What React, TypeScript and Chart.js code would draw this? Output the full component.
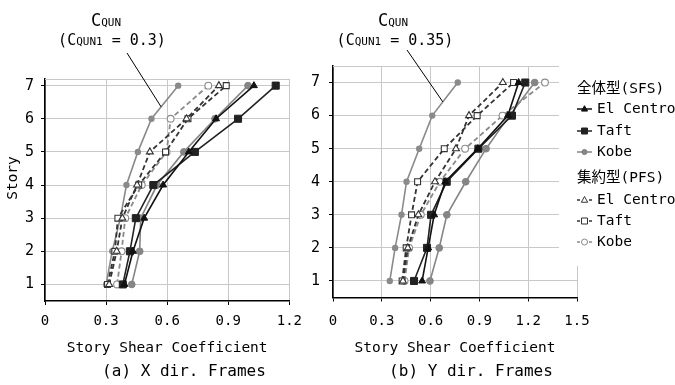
import React, { useEffect, useRef } from 'react';
import { Chart, registerables } from 'chart.js';

Chart.register(...registerables);

const FONT = "'DejaVu Sans Mono', 'Noto Sans CJK JP', monospace";
const GRID = '#c8c8c8';

// ---------- data ----------
const stories = [1, 2, 3, 4, 5, 6, 7];
const recordNames = ['El Centro', 'Taft', 'Kobe'];
const groupHeaders = ['全体型(SFS)', '集約型(PFS)'];
const xAxisTitle = 'Story Shear Coefficient';
const yAxisTitle = 'Story';
const captions = ['(a) X dir. Frames', '(b) Y dir. Frames'];
const cqunLabels = ['0.3', '0.35'];

// (a) X direction
const xCqun = [0.300, 0.330, 0.370, 0.400, 0.456, 0.523, 0.654];
const xSfsElCentro = [0.390, 0.432, 0.487, 0.580, 0.706, 0.840, 1.026];
const xSfsTaft = [0.382, 0.417, 0.446, 0.532, 0.736, 0.948, 1.133];
const xSfsKobe = [0.426, 0.465, 0.470, 0.550, 0.682, 0.835, 0.997];
const xPfsElCentro = [0.315, 0.352, 0.380, 0.452, 0.515, 0.695, 0.854];
const xPfsTaft = [0.307, 0.343, 0.358, 0.460, 0.592, 0.702, 0.890];
const xPfsKobe = [0.354, 0.376, 0.394, 0.475, 0.597, 0.617, 0.802];

// (b) Y direction
const yCqun = [0.349, 0.382, 0.421, 0.452, 0.530, 0.610, 0.767];
const ySfsElCentro = [0.548, 0.585, 0.622, 0.690, 0.890, 1.075, 1.141];
const ySfsTaft = [0.498, 0.578, 0.603, 0.699, 0.894, 1.100, 1.182];
const ySfsKobe = [0.596, 0.653, 0.700, 0.816, 0.941, 1.085, 1.240];
const yPfsElCentro = [0.430, 0.460, 0.525, 0.627, 0.756, 0.836, 1.044];
const yPfsTaft = [0.425, 0.450, 0.483, 0.520, 0.684, 0.886, 1.110];
const yPfsKobe = [0.440, 0.468, 0.540, 0.657, 0.812, 1.042, 1.303];

// ---------- styles ----------
const SFS_COLORS = ['#111111', '#222222', '#858585'];
const PFS_COLORS = ['#333333', '#333333', '#8a8a8a'];
const POINT_STYLES = ['triangle', 'rect', 'circle'];
const SFS_RADIUS = [4, 5, 3.4];
const PFS_RADIUS = [4, 4.2, 3.4];
const CQUN_COLOR = '#8a8a8a';

const pts = (arr: number[]) => arr.map((v, i) => ({ x: v, y: stories[i] }));

function buildDatasets(cqun: number[], sfs: number[][], pfs: number[][]) {
  const ds: any[] = [];
  sfs.forEach((arr, i) => {
    ds.push({
      label: '全体型 ' + recordNames[i],
      data: pts(arr),
      showLine: true,
      borderColor: SFS_COLORS[i],
      backgroundColor: SFS_COLORS[i],
      borderWidth: 1.6,
      pointStyle: POINT_STYLES[i],
      pointRadius: SFS_RADIUS[i],
      pointBackgroundColor: SFS_COLORS[i],
      pointBorderColor: SFS_COLORS[i],
      pointBorderWidth: 1,
    });
  });
  pfs.forEach((arr, i) => {
    ds.push({
      label: '集約型 ' + recordNames[i],
      data: pts(arr),
      showLine: true,
      borderColor: PFS_COLORS[i],
      backgroundColor: '#ffffff',
      borderWidth: 1.8,
      borderDash: [5, 3],
      pointStyle: POINT_STYLES[i],
      pointRadius: PFS_RADIUS[i],
      pointBackgroundColor: '#ffffff',
      pointBorderColor: PFS_COLORS[i],
      pointBorderWidth: 1.1,
    });
  });
  ds.push({
    label: 'CQUN',
    data: pts(cqun),
    showLine: true,
    borderColor: CQUN_COLOR,
    backgroundColor: CQUN_COLOR,
    borderWidth: 1.6,
    pointStyle: 'circle',
    pointRadius: 2.4,
    pointBackgroundColor: CQUN_COLOR,
    pointBorderColor: CQUN_COLOR,
  });
  return ds;
}

function drawMarker(ctx: CanvasRenderingContext2D, kind: string, x: number, y: number, r: number, fill: string, stroke: string) {
  ctx.beginPath();
  if (kind === 'circle') ctx.arc(x, y, r, 0, Math.PI * 2);
  else if (kind === 'rect') ctx.rect(x - r, y - r, 2 * r, 2 * r);
  else {
    ctx.moveTo(x, y - r * 1.1);
    ctx.lineTo(x + r, y + r * 0.7);
    ctx.lineTo(x - r, y + r * 0.7);
    ctx.closePath();
  }
  ctx.fillStyle = fill;
  ctx.fill();
  ctx.lineWidth = 1;
  ctx.strokeStyle = stroke;
  ctx.stroke();
}

function drawMixed(ctx: CanvasRenderingContext2D, parts: { t: string; s: number }[], cx: number, baseline: number) {
  let total = 0;
  parts.forEach((p) => {
    ctx.font = `${p.s}px ${FONT}`;
    total += ctx.measureText(p.t).width;
  });
  let x = cx - total / 2;
  ctx.textAlign = 'left';
  ctx.textBaseline = 'alphabetic';
  parts.forEach((p) => {
    ctx.font = `${p.s}px ${FONT}`;
    ctx.fillText(p.t, x, baseline);
    x += ctx.measureText(p.t).width;
  });
}

function makeDecor(p: any) {
  return {
    id: 'decor',
    beforeDatasetsDraw(chart: any) {
      const { ctx, chartArea: a } = chart;
      ctx.save();
      ctx.strokeStyle = GRID;
      ctx.lineWidth = 1;
      ctx.beginPath();
      ctx.moveTo(a.left, Math.round(a.top) + 0.5);
      ctx.lineTo(a.right, Math.round(a.top) + 0.5);
      ctx.stroke();
      ctx.restore();
    },
    afterDraw(chart: any) {
      const { ctx } = chart;
      const xs = chart.scales.x;
      const ys = chart.scales.y;
      ctx.save();
      ctx.fillStyle = '#000';
      // CQUN annotation
      const big = 15;
      const small = 11;
      drawMixed(ctx, [{ t: 'C', s: big + 2 }, { t: 'QUN', s: small }], p.annCx1, 26);
      drawMixed(ctx, [{ t: '(C', s: big }, { t: 'QUN1', s: small }, { t: ' = ' + p.cqunText + ')', s: big }], p.annCx2, 45);
      const cq = p.cqun;
      const f = p.leaderFrac;
      const tx = xs.getPixelForValue(cq[5] + (cq[6] - cq[5]) * f);
      const ty = ys.getPixelForValue(stories[5] + f);
      ctx.strokeStyle = '#000';
      ctx.lineWidth = 1;
      ctx.beginPath();
      ctx.moveTo(p.leaderStart[0], p.leaderStart[1]);
      ctx.lineTo(tx, ty);
      ctx.stroke();
      // y title
      if (p.yTitle) {
        ctx.save();
        ctx.translate(13, 178);
        ctx.rotate(-Math.PI / 2);
        ctx.font = `14.5px ${FONT}`;
        ctx.textAlign = 'center';
        ctx.textBaseline = 'middle';
        ctx.fillText(p.yTitle, 0, 0);
        ctx.restore();
      }
      // caption
      ctx.font = `16px ${FONT}`;
      ctx.textAlign = 'center';
      ctx.textBaseline = 'middle';
      ctx.fillText(p.caption, p.captionX, 372);
      // legend
      if (p.legend) {
        const L = p.legend;
        ctx.fillStyle = '#fff';
        ctx.fillRect(L.boxLeft, L.boxTop, L.boxW, L.boxH);
        ctx.font = `14.5px ${FONT}`;
        ctx.textAlign = 'left';
        ctx.textBaseline = 'middle';
        const drawGroup = (hy: number, rows: number[], colors: string[], radii: number[], dashed: boolean) => {
          ctx.fillStyle = '#000';
          ctx.fillText(dashed ? groupHeaders[1] : groupHeaders[0], L.x, hy);
          rows.forEach((ry, i) => {
            const x0 = L.x;
            const x1 = L.x + 15;
            ctx.strokeStyle = colors[i];
            ctx.lineWidth = 1.5;
            ctx.beginPath();
            if (dashed) {
              ctx.moveTo(x0, ry);
              ctx.lineTo(x0 + 3, ry);
              ctx.moveTo(x1 - 3, ry);
              ctx.lineTo(x1, ry);
            } else {
              ctx.moveTo(x0, ry);
              ctx.lineTo(x1, ry);
            }
            ctx.stroke();
            drawMarker(ctx, POINT_STYLES[i], (x0 + x1) / 2, ry, radii[i], dashed ? '#fff' : colors[i], colors[i]);
            ctx.fillStyle = '#000';
            ctx.fillText(recordNames[i], L.x + 20, ry);
          });
        };
        drawGroup(L.rows[0], [L.rows[1], L.rows[2], L.rows[3]], SFS_COLORS, [3, 3, 2.6], false);
        drawGroup(L.rows[4], [L.rows[5], L.rows[6], L.rows[7]], PFS_COLORS, [3.2, 3, 3], true);
      }
      ctx.restore();
    },
  };
}

function buildConfig(p: any) {
  return {
    type: 'scatter',
    data: { datasets: buildDatasets(p.cqun, p.sfs, p.pfs) },
    options: {
      animation: false,
      responsive: false,
      devicePixelRatio: 1,
      layout: { padding: { top: p.padTop, right: p.padRight, left: 0, bottom: 0 } },
      plugins: { legend: { display: false }, tooltip: { enabled: false } },
      scales: {
        x: {
          type: 'linear',
          min: 0,
          max: p.xMax,
          afterFit: (s: any) => {
            s.height = p.xAxisHeight;
          },
          ticks: {
            stepSize: 0.3,
            padding: p.xTickPad,
            color: '#000',
            maxRotation: 0,
            autoSkip: false,
            font: { family: FONT, size: 14 },
            callback: (v: any) => (Math.abs(v) < 1e-9 ? '0' : Number(v).toFixed(1)),
          },
          grid: { color: GRID, lineWidth: 1, tickLength: 4, tickColor: '#000' },
          border: { color: '#000', width: 1.6 },
          title: {
            display: true,
            text: xAxisTitle,
            color: '#000',
            font: { family: FONT, size: 14.5 },
            padding: { top: 0, bottom: 28 },
          },
        },
        y: {
          type: 'linear',
          min: 0.5,
          max: p.yMax,
          afterFit: (s: any) => {
            s.width = p.yAxisWidth;
          },
          afterBuildTicks: (s: any) => {
            s.ticks = stories.map((v) => ({ value: v }));
          },
          ticks: {
            stepSize: 1,
            padding: p.yTickPad,
            color: '#000',
            font: { family: FONT, size: 15 },
          },
          grid: { color: GRID, lineWidth: 1, tickLength: 4, tickColor: '#000' },
          border: { color: '#000', width: 1.6 },
        },
      },
    },
    plugins: [makeDecor(p)],
  };
}

const panelA = {
  cqun: xCqun,
  sfs: [xSfsElCentro, xSfsTaft, xSfsKobe],
  pfs: [xPfsElCentro, xPfsTaft, xPfsKobe],
  xMax: 1.2,
  yMax: 7.2,
  padTop: 79,
  padRight: 20,
  yAxisWidth: 45,
  xAxisHeight: 84,
  xTickPad: 8,
  yTickPad: 7,
  cqunText: cqunLabels[0],
  annCx1: 106,
  annCx2: 112,
  leaderStart: [127, 53],
  leaderFrac: 0.36,
  yTitle: yAxisTitle,
  caption: captions[0],
  captionX: 184,
  legend: null,
};

const panelB = {
  cqun: yCqun,
  sfs: [ySfsElCentro, ySfsTaft, ySfsKobe],
  pfs: [yPfsElCentro, yPfsTaft, yPfsKobe],
  xMax: 1.5,
  yMax: 7.5,
  padTop: 66,
  padRight: 98,
  yAxisWidth: 33,
  xAxisHeight: 87.5,
  xTickPad: 11.5,
  yTickPad: 9,
  cqunText: cqunLabels[1],
  annCx1: 93,
  annCx2: 95,
  leaderStart: [107, 50],
  leaderFrac: 0.415,
  yTitle: null,
  caption: captions[1],
  captionX: 171,
  legend: {
    boxLeft: 259,
    boxTop: 58,
    boxW: 116,
    boxH: 208,
    x: 277,
    rows: [89, 109, 131, 152, 178, 200, 221, 242],
  },
};

function Panel({ cfg, left, width }: { cfg: any; left: number; width: number }) {
  const ref = useRef<HTMLCanvasElement>(null);
  useEffect(() => {
    const chart = new Chart(ref.current as HTMLCanvasElement, buildConfig(cfg) as any);
    return () => chart.destroy();
  }, []);
  return (
    <canvas
      ref={ref}
      width={width}
      height={385}
      style={{ position: 'absolute', left, top: 0, width, height: 385 }}
    />
  );
}

export default function App() {
  return (
    <div
      style={{
        position: 'fixed',
        left: 0,
        top: 0,
        width: 675,
        height: 385,
        background: '#fff',
        overflow: 'hidden',
      }}
    >
      <Panel cfg={panelA} left={0} width={310} />
      <Panel cfg={panelB} left={300} width={375} />
    </div>
  );
}
